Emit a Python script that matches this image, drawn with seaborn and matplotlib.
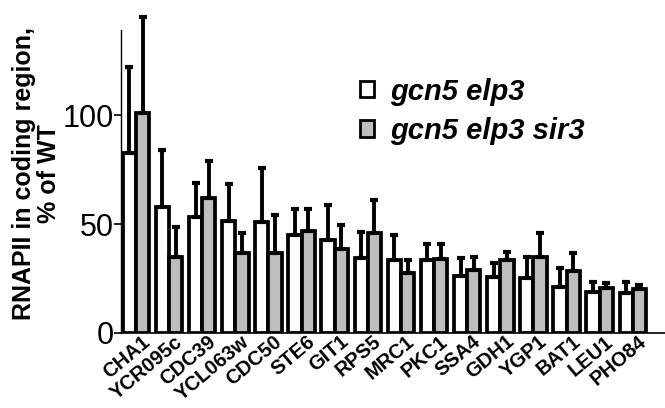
import numpy as np
import pandas as pd
import matplotlib
matplotlib.use("Agg")
import matplotlib.pyplot as plt
import matplotlib.transforms as mtransforms
import seaborn as sns
from matplotlib.patches import Patch

genes = ["CHA1", "YCR095c", "CDC39", "YCL063w", "CDC50", "STE6", "GIT1", "RPS5",
         "MRC1", "PKC1", "SSA4", "GDH1", "YGP1", "BAT1", "LEU1", "PHO84"]
strains = ["gcn5 elp3", "gcn5 elp3 sir3"]
white_vals = [82.5, 58, 53, 51.5, 51, 45, 42.6, 34.5, 33.5, 33.5, 26, 25.7, 25, 21, 19, 18.5]
white_top = [122, 84, 69, 68.5, 75.5, 57, 58.7, 46.5, 45, 41, 34.4, 32, 35, 30, 23.5, 23.5]
gray_vals = [101, 35, 62, 36.7, 36.8, 47, 38.5, 45.8, 27.7, 34, 29, 33.5, 35, 28.5, 20.6, 20]
gray_top = [145, 48.7, 79, 46, 54, 57, 49.5, 61, 33.5, 41, 35, 37, 46, 36.7, 23, 22]
yticks = [0, 50, 100]

colors = ["white", "#bebebe"]

df = pd.DataFrame({
    "gene": genes * 2,
    "strain": [strains[0]] * len(genes) + [strains[1]] * len(genes),
    "value": white_vals + gray_vals,
})

sns.set_style("ticks")
plt.rcParams["font.family"] = ["Liberation Sans", "DejaVu Sans"]
plt.rcParams.update({"text.color": "black", "axes.labelcolor": "black",
                     "xtick.color": "black", "ytick.color": "black",
                     "axes.edgecolor": "black"})

fig = plt.figure(figsize=(6.65, 4.08), dpi=100)
ax = fig.add_axes([0.182, 0.184, 0.818, 0.742])

sns.barplot(data=df, x="gene", y="value", hue="strain", order=genes,
            hue_order=strains, palette=colors, edgecolor="black",
            linewidth=2.7, width=0.8, errorbar=None, legend=False, ax=ax)

tops = [white_top, gray_top]
vals = [white_vals, gray_vals]
for cont, t, v in zip(ax.containers, tops, vals):
    xs = [b.get_x() + b.get_width() / 2 for b in cont]
    errs = np.array(t) - np.array(v)
    ax.errorbar(xs, v, yerr=[np.zeros(len(v)), errs], fmt="none",
                ecolor="black", elinewidth=2.8, capsize=3.2, capthick=3,
                clip_on=False, zorder=1)

ax.set_xlim(-0.45, 15.97)
ax.set_ylim(0, 139)
ax.set_yticks(yticks)
ax.set_yticklabels([str(t) for t in yticks], fontsize=22)
ax.tick_params(axis="y", length=5, width=1.2, pad=0, direction="out")
ax.tick_params(axis="x", length=0, pad=0)
offset = mtransforms.ScaledTranslation(5 / 100, 1 / 100, fig.dpi_scale_trans)
for lab in ax.get_xticklabels():
    lab.set_rotation(40)
    lab.set_ha("right")
    lab.set_rotation_mode("anchor")
    lab.set_fontsize(14.5)
    lab.set_fontweight("bold")
    lab.set_transform(lab.get_transform() + offset)

ax.set_xlabel("")
ax.set_ylabel("RNAPII in coding region,\n% of WT", fontsize=18, fontweight="bold",
              linespacing=1.05)
ax.yaxis.set_label_coords(-0.11, 0.525)

for s in ["top", "right"]:
    ax.spines[s].set_visible(False)
ax.spines["left"].set_linewidth(1.0)
ax.spines["bottom"].set_linewidth(1.2)

handles = [Patch(facecolor=c, edgecolor="black", linewidth=2.0) for c in colors]
leg = fig.legend(handles, strains, loc="upper left", bbox_to_anchor=(0.541, 0.81),
                 frameon=False, prop={"size": 21, "weight": "bold", "style": "italic"},
                 handlelength=0.5, handleheight=0.5, handletextpad=0.55,
                 labelspacing=0.38, borderaxespad=0, borderpad=0)

fig.savefig("out.png", dpi=100)
